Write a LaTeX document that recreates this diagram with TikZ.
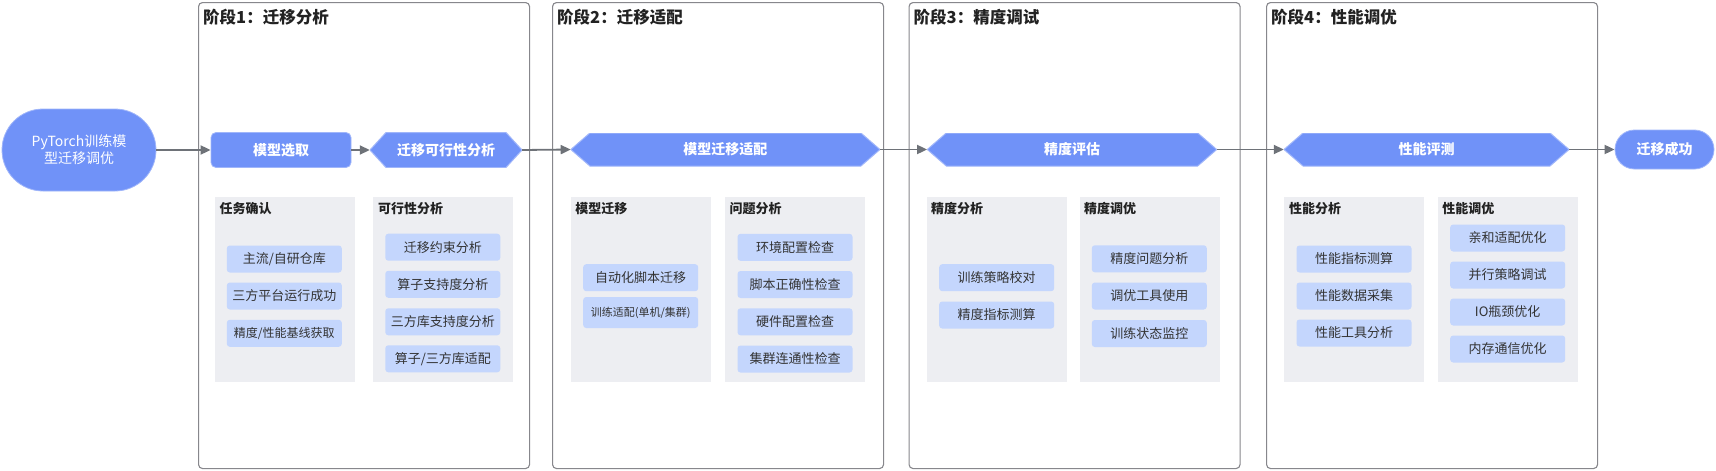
\documentclass[tikz,border=0pt]{standalone}
\usepackage{fontspec}
\setmainfont{Noto Sans CJK SC}
\usetikzlibrary{arrows.meta}
\definecolor{mainblue}{RGB}{112,146,248}
\definecolor{mainedge}{RGB}{160,182,250}
\definecolor{itemblue}{RGB}{196,214,253}
\definecolor{panelgray}{RGB}{237,238,242}
\definecolor{boxline}{RGB}{135,135,140}
\definecolor{arrowgray}{RGB}{110,114,120}
\definecolor{txtdark}{RGB}{34,34,34}
\definecolor{txtitem}{RGB}{51,51,51}
\newcommand\myfs[1]{\fontsize{#1}{#1}\selectfont}
\begin{document}
\begin{tikzpicture}[x=1pt,y=-1pt,
  stagebox/.style={draw=boxline, line width=1.1pt, rounded corners=4pt, fill=white,
    minimum width=331pt, minimum height=466pt, anchor=north west, inner sep=0pt},
  stagetitle/.style={anchor=west, inner sep=0pt, font=\myfs{16.5}\bfseries, text=txtdark},
  panel/.style={fill=panelgray, minimum width=140pt, minimum height=185pt, anchor=north west, inner sep=0pt},
  ptitle/.style={anchor=west, inner sep=0pt, font=\myfs{13}\bfseries, text=txtdark},
  item/.style={fill=itemblue, rounded corners=3pt, minimum width=115pt, minimum height=27pt,
    inner sep=0pt, font=\myfs{13}, text=txtitem},
  mainbox/.style={fill=mainblue, draw=mainedge, line width=0.8pt, text=white, inner sep=0pt,
    font=\myfs{14}\bfseries},
  hexa/.style={fill=white, inner sep=0pt, minimum height=33pt, text=white, font=\myfs{14}\bfseries,
    path picture={\filldraw[fill=mainblue, draw=mainedge, line width=1pt]
      (path picture bounding box.west)
      -- ([xshift=#1]path picture bounding box.north west)
      -- ([xshift=-#1]path picture bounding box.north east)
      -- (path picture bounding box.east)
      -- ([xshift=-#1]path picture bounding box.south east)
      -- ([xshift=#1]path picture bounding box.south west) -- cycle;}},
  flow/.style={draw=arrowgray, line width=1.8pt, -{Triangle[length=10pt,width=9pt]}}
]
\useasboundingbox (0,0) rectangle (1716,471);

% stage boxes
\node[stagebox] (s1) at (198,2) {};
\node[stagebox] (s2) at (552,2) {};
\node[stagebox] (s3) at (908.5,2) {};
\node[stagebox] (s4) at (1266,2) {};
\node[stagetitle] (t1) at (203,17) {阶段1：迁移分析};
\node[stagetitle] (t2) at (557,17) {阶段2：迁移适配};
\node[stagetitle] (t3) at (913.5,17) {阶段3：精度调试};
\node[stagetitle] (t4) at (1271,17) {阶段4：性能调优};

% main flow
\node[mainbox, rounded corners=41pt, minimum width=154pt, minimum height=82pt, align=center,
  font=\fontsize{14}{17}\selectfont] (start) at (79,150) {PyTorch训练模\\型迁移调优};
\node[mainbox, rounded corners=5pt, minimum width=140pt, minimum height=35pt] (sel) at (281,150) {模型选取};
\node[hexa=16pt, minimum width=152pt, minimum height=35pt] (h1) at (446,150) {迁移可行性分析};
\node[hexa=19pt, minimum width=309pt] (h2) at (725.4,149.5) {模型迁移适配};
\node[hexa=19pt, minimum width=289.4pt] (h3) at (1072,149.5) {精度评估};
\node[hexa=19pt, minimum width=285pt] (h4) at (1426.5,149.5) {性能评测};
\node[mainbox, rounded corners=19.5pt, minimum width=99pt, minimum height=39pt] (done) at (1664.5,149.5) {迁移成功};

\draw[flow] (start.east) -- (sel.west);
\draw[flow] (sel.east) -- (h1.west);
\draw[flow] (h1.east) -- (h2.west);
\draw[flow] (h2.east) -- (h3.west);
\draw[flow] (h3.east) -- (h4.west);
\draw[flow] (h4.east) -- (done.west);

% panels stage 1
\node[panel] (pA) at (214.3,197) {};
\node[ptitle] (pAt) at (219.3,209) {任务确认};
\node[item] (a1) at (284.3,259) {主流/自研仓库};
\node[item] (a2) at (284.3,296) {三方平台运行成功};
\node[item, font=\myfs{12}] (a3) at (284.3,333.3) {精度/性能基线获取};

\node[panel] (pB) at (372.8,197) {};
\node[ptitle] (pBt) at (377.8,209) {可行性分析};
\node[item] (b1) at (442.8,247.2) {迁移约束分析};
\node[item] (b2) at (442.8,284.3) {算子支持度分析};
\node[item] (b3) at (442.8,321.8) {三方库支持度分析};
\node[item] (b4) at (442.8,358.8) {算子/三方库适配};

% panels stage 2
\node[panel] (pC) at (570.7,197) {};
\node[ptitle] (pCt) at (575.2,209) {模型迁移};
\node[item] (c1) at (640.7,277.7) {自动化脚本迁移};
\node[item, minimum height=31pt, font=\myfs{11}] (c2) at (640.7,312.5) {训练适配(单机/集群)};

\node[panel] (pD) at (725,197) {};
\node[ptitle] (pDt) at (729.5,209) {问题分析};
\node[item] (d1) at (795,247.3) {环境配置检查};
\node[item] (d2) at (795,284.5) {脚本正确性检查};
\node[item] (d3) at (795,321.8) {硬件配置检查};
\node[item] (d4) at (795,359) {集群连通性检查};

% panels stage 3
\node[panel] (pE) at (926.7,197) {};
\node[ptitle] (pEt) at (931,209) {精度分析};
\node[item] (e1) at (996.7,277.7) {训练策略校对};
\node[item] (e2) at (996.7,315) {精度指标测算};

\node[panel] (pF) at (1079.3,197) {};
\node[ptitle] (pFt) at (1083.8,209) {精度调优};
\node[item] (f1) at (1149.3,258.8) {精度问题分析};
\node[item] (f2) at (1149.3,296) {调优工具使用};
\node[item] (f3) at (1149.3,333.5) {训练状态监控};

% panels stage 4
\node[panel] (pG) at (1284,197) {};
\node[ptitle] (pGt) at (1289,209) {性能分析};
\node[item] (g1) at (1354,259) {性能指标测算};
\node[item] (g2) at (1354,296) {性能数据采集};
\node[item] (g3) at (1354,333) {性能工具分析};

\node[panel] (pH) at (1437.7,197) {};
\node[ptitle] (pHt) at (1442.2,209) {性能调优};
\node[item] (k1) at (1507.7,238) {亲和适配优化};
\node[item] (k2) at (1507.7,275) {并行策略调试};
\node[item] (k3) at (1507.7,312) {IO瓶颈优化};
\node[item] (k4) at (1507.7,349) {内存通信优化};
\end{tikzpicture}
\end{document}
